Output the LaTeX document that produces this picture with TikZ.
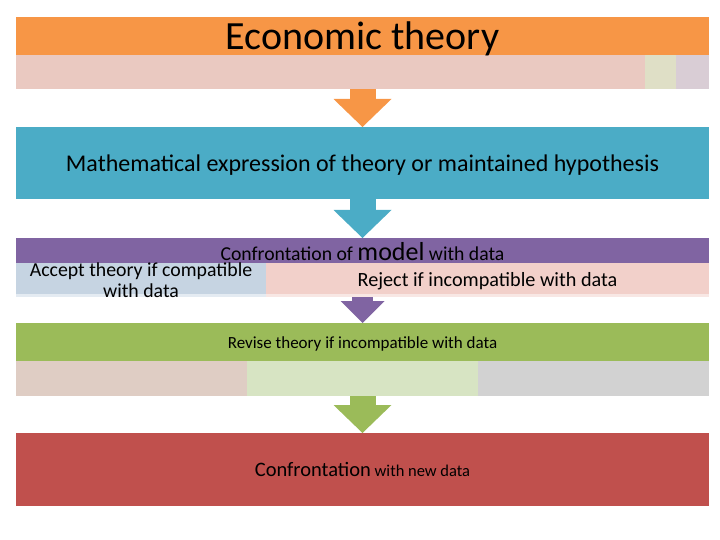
\documentclass[tikz,border=0pt]{standalone}
\usepackage{fontspec}
\setmainfont{Carlito}
\usetikzlibrary{arrows.meta, positioning}

\definecolor{orangeA}{HTML}{F79646}
\definecolor{pinkA}{HTML}{EAC9C1}
\definecolor{sageA}{HTML}{DFDFC6}
\definecolor{mauveA}{HTML}{D9CDD5}
\definecolor{tealA}{HTML}{4BACC6}
\definecolor{purpleA}{HTML}{8064A2}
\definecolor{blueB}{HTML}{C6D4E2}
\definecolor{paleB}{HTML}{E4EBF2}
\definecolor{pinkB}{HTML}{F2D0CA}
\definecolor{stripB}{HTML}{F8E7E4}
\definecolor{greenA}{HTML}{9BBB59}
\definecolor{rosyC}{HTML}{DFCDC4}
\definecolor{greenC}{HTML}{D7E4C3}
\definecolor{greyC}{HTML}{D2D2D2}
\definecolor{redA}{HTML}{C0504D}

\tikzset{
  bar/.style={anchor=north west, inner sep=0pt, outer sep=0pt, minimum width=693pt},
  cell/.style={anchor=north west, inner sep=0pt, outer sep=0pt},
  flow/.style={draw=#1, line width=26pt,
    -{Triangle[length=28pt, width=58pt, line width=0pt]}},
}

\begin{document}
\begin{tikzpicture}[x=1pt, y=-1pt]
  \useasboundingbox (0,0) rectangle (720,540);

  % economic theory
  \node[bar, fill=orangeA, minimum height=38pt] (theory) at (16,17) {};
  \node[bar, fill=pinkA, minimum height=34pt] (theoryrow) at (16,55) {};
  \node[cell, fill=sageA, minimum width=31pt, minimum height=34pt] (theorysage) at (645,55) {};
  \node[cell, fill=mauveA, minimum width=33pt, minimum height=34pt] (theorymauve) at (676,55) {};
  \node[anchor=base, font=\fontsize{40}{40}\selectfont] (theorytxt) at (362.5,50) {Economic theory};

  % mathematical expression
  \node[bar, fill=tealA, minimum height=72pt] (math) at (16,127) {};
  \node[anchor=base, font=\fontsize{24}{24}\selectfont] (mathtxt) at (362.5,172)
    {Mathematical expression of theory or maintained hypothesis};

  % confrontation with data
  \node[bar, fill=purpleA, minimum height=25pt] (model) at (16,238) {};
  \node[bar, fill=stripB, minimum height=34pt] (modelrow) at (16,263) {};
  \node[cell, fill=paleB, minimum width=250pt, minimum height=34pt] (acceptstrip) at (16,263) {};
  \node[cell, fill=blueB, minimum width=250pt, minimum height=31pt] (accept) at (16,263) {};
  \node[cell, fill=pinkB, minimum width=443pt, minimum height=31pt] (reject) at (266,263) {};
  \node[anchor=base, font=\fontsize{19.7}{19.7}\selectfont] (modeltxt) at (362.5,260)
    {Confrontation of {\fontsize{26}{26}\selectfont model} with data};
  \node[anchor=base, font=\fontsize{19.8}{21}\selectfont, align=center] (accepttxt) at (141,297)
    {Accept theory if compatible\\with data};
  \node[anchor=base, font=\fontsize{20.2}{20.2}\selectfont] (rejecttxt) at (487.5,286)
    {Reject if incompatible with data};

  % revise theory
  \node[bar, fill=greenA, minimum height=38pt] (revise) at (16,323) {};
  \node[bar, fill=greenC, minimum height=35pt] (reviserow) at (16,361) {};
  \node[cell, fill=rosyC, minimum width=231pt, minimum height=35pt] (reviserosy) at (16,361) {};
  \node[cell, fill=greyC, minimum width=231pt, minimum height=35pt] (revisegrey) at (478,361) {};
  \node[anchor=base, font=\fontsize{17}{17}\selectfont] (revisetxt) at (362.5,348)
    {Revise theory if incompatible with data};

  % new data
  \node[bar, fill=redA, minimum height=73pt] (newdata) at (16,433) {};
  \node[anchor=base, font=\fontsize{16.5}{16.5}\selectfont] (newdatatxt) at (362.5,476)
    {{\fontsize{20.5}{20.5}\selectfont Confrontation} with new data};

  % block arrows
  \draw[flow=orangeA] (theoryrow.south) -- (math.north);
  \draw[flow={purpleA}, line width=21pt,
    -{Triangle[length=22pt, width=44pt, line width=0pt]}] (modelrow.south) -- (revise.north);
  \draw[flow=tealA] (math.south) -- (model.north);
  \draw[flow=greenA] (reviserow.south) -- (newdata.north);
\end{tikzpicture}
\end{document}
